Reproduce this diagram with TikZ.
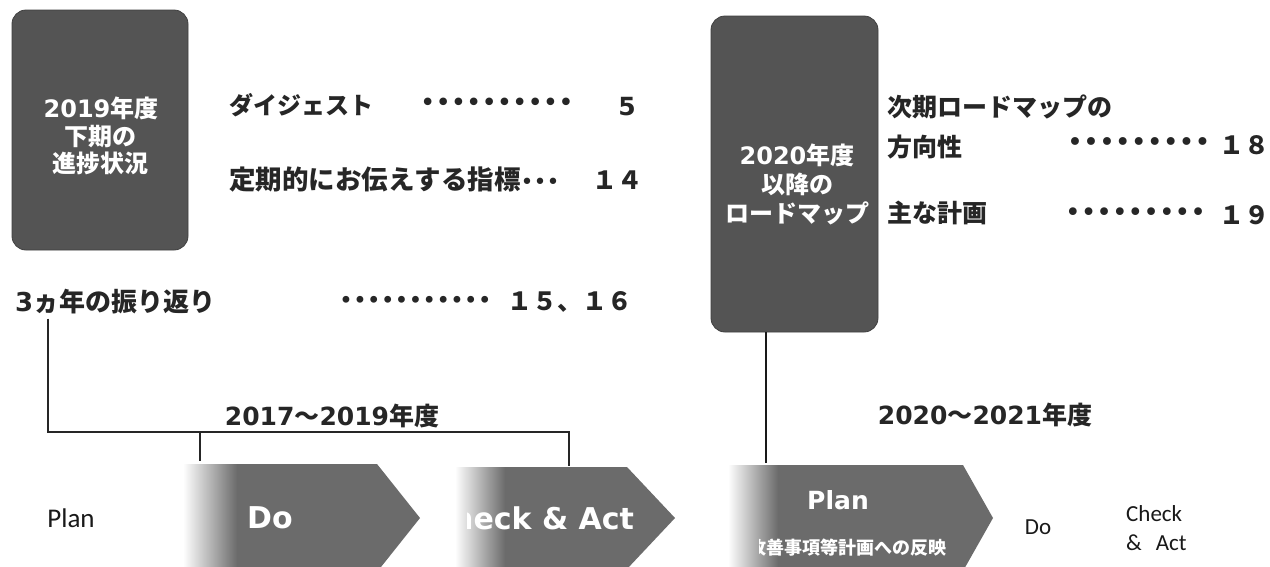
\documentclass[tikz,border=0pt]{standalone}
\usepackage{fontspec}
\newfontfamily\jpf{Noto Sans CJK JP}
\newfontfamily\dvf{DejaVu Sans}
\newfontfamily\cbf{Carlito}
\newcommand\setfs[1]{\fontsize{#1}{#1}\selectfont}
\colorlet{chevgray}{black!58}
\tikzset{
  conn/.style={line width=1.6pt, draw=black!85},
  conntk/.style={line width=2.4pt, draw=black!90},
  darkbox/.style={fill=black!67, draw=black!75, line width=0.8pt, rounded corners=14pt, inner sep=0pt},
  boxtxt/.style={inner sep=0pt, text=white, align=center, font=\jpf\bfseries\fontsize{24}{27.5}\selectfont},
  lbl/.style={inner sep=0pt, text=black!85, font=\jpf\bfseries\setfs{25}},
  leader/.style={inner sep=0pt, text=black!85, font=\dvf\setfs{#1}},
  pnum/.style={inner sep=0pt, text=black!85, font=\jpf\bfseries\setfs{25}},
  period/.style={inner sep=0pt, text=black!85, font=\jpf\bfseries\setfs{25}},
  chev/.style={fill=chevgray},
  chevfade/.style={left color=white, right color=chevgray},
  chevtxt/.style={inner sep=0pt, text=white, font=\dvf\bfseries\setfs{#1}},
  plain/.style={inner sep=0pt, text=black!90, font=\cbf\setfs{#1}}
}
\begin{document}
\begin{tikzpicture}[x=1pt,y=-1pt]
\clip (0,0) rectangle (1270,566);
\fill[white] (0,0) rectangle (1270,566);

% ---- left box and items
\node[darkbox, minimum width=176pt, minimum height=240pt] (box1) at (100,130) {};
\node[boxtxt] (box1t) at (101,136) {{\dvf 2019}年度\\下期の\\進捗状況};

\node[lbl, anchor=west, font=\jpf\bfseries\setfs{24}] (digest) at (229,105) {ダイジェスト};
\node[leader=26, anchor=west] (ld1) at (420,105) {••••••••••};
\node[inner sep=0pt, text=black!85, font=\dvf\bfseries\setfs{25}] (p5) at (627,107) {5};

\node[lbl, anchor=west, font=\jpf\bfseries\setfs{26.5}] (indic) at (229,180) {定期的にお伝えする指標{\dvf\mdseries\setfs{22}•••}};
\node[pnum] (p14) at (617,180) {１４};

\node[lbl, anchor=west, font=\jpf\bfseries\setfs{26}] (review) at (15,302) {{\dvf 3}ヵ年の振り返り};
\node[leader=23.5, anchor=west] (ld3) at (339,302) {•••••••••••};
\node[pnum] (p1516) at (570,302) {１５、１６};

% ---- right box and items
\node[darkbox, minimum width=167pt, minimum height=316pt] (box2) at (794.5,174) {};
\node[boxtxt, font=\jpf\bfseries\fontsize{24}{29}\selectfont] (box2t) at (797,184) {{\dvf 2020}年度\\以降の\\ロードマップ};

\node[lbl, anchor=west] (dir1) at (887,107) {次期ロードマップの};
\node[lbl, anchor=west] (dir2) at (887,147) {方向性};
\node[leader=27, anchor=west] (ld18) at (1067,145) {•••••••••};
\node[pnum] (p18) at (1244,145) {１８};

\node[lbl, anchor=west] (plans) at (887,213) {主な計画};
\node[leader=26.5, anchor=west] (ld19) at (1065,215) {•••••••••};
\node[pnum] (p19) at (1244,215) {１９};

% ---- period labels
\node[period] (per1) at (332,416) {{\dvf\bfseries 2017}～{\dvf\bfseries 2019}年度};
\node[period] (per2) at (985,415) {{\dvf\bfseries 2020}～{\dvf\bfseries 2021}年度};

% ---- chevrons (solid body + faded left end)
\fill[chev] (236,464) -- (377,464) -- (420,518) -- (377,572) -- (236,572) -- cycle;
\shade[chevfade] (183,464) rectangle (237,572);
\fill[chev] (504,467) -- (627,467) -- (675,518) -- (627,569) -- (504,569) -- cycle;
\shade[chevfade] (455,467) rectangle (505,569);
\fill[chev] (777,465) -- (963,465) -- (993,518) -- (963,571) -- (777,571) -- cycle;
\shade[chevfade] (728,465) rectangle (778,571);

\node[chevtxt=30] (doA) at (270,518) {Do};
\begin{scope}
  \clip (467,467) rectangle (680,569);
  \node[chevtxt=30, anchor=west] (caA) at (430,518) {Check \& Act};
\end{scope}
\node[chevtxt=25] (plA) at (838,500) {Plan};
\begin{scope}
  \clip (759,520) rectangle (990,571);
  \node[inner sep=0pt, text=white, font=\jpf\bfseries\setfs{18}, anchor=east] (plSub) at (947,548) {改善事項等計画への反映};
\end{scope}

% ---- plain labels
\node[plain=27] (planL) at (71,518) {Plan};
\node[plain=23] (doR) at (1038,527) {Do};
\node[plain=23, anchor=west, align=left, font=\cbf\fontsize{23}{29}\selectfont] (caR) at (1126,528) {Check\\\&\hspace{14pt}Act};

% ---- connectors
\coordinate (brL) at (48,432);
\coordinate (brR) at (569,432);
\coordinate (doTop) at (200,461);
\coordinate (caTop) at (569,466);
\coordinate (plTop) at (766,463);
\draw[conn] (review.south -| brL) ++(0,4) -- (brL) -- (brR) -- (caTop);
\draw[conn] (brL -| doTop) -- (doTop);
\draw[conntk] (box2.south -| plTop) -- (plTop);
\end{tikzpicture}
\end{document}
